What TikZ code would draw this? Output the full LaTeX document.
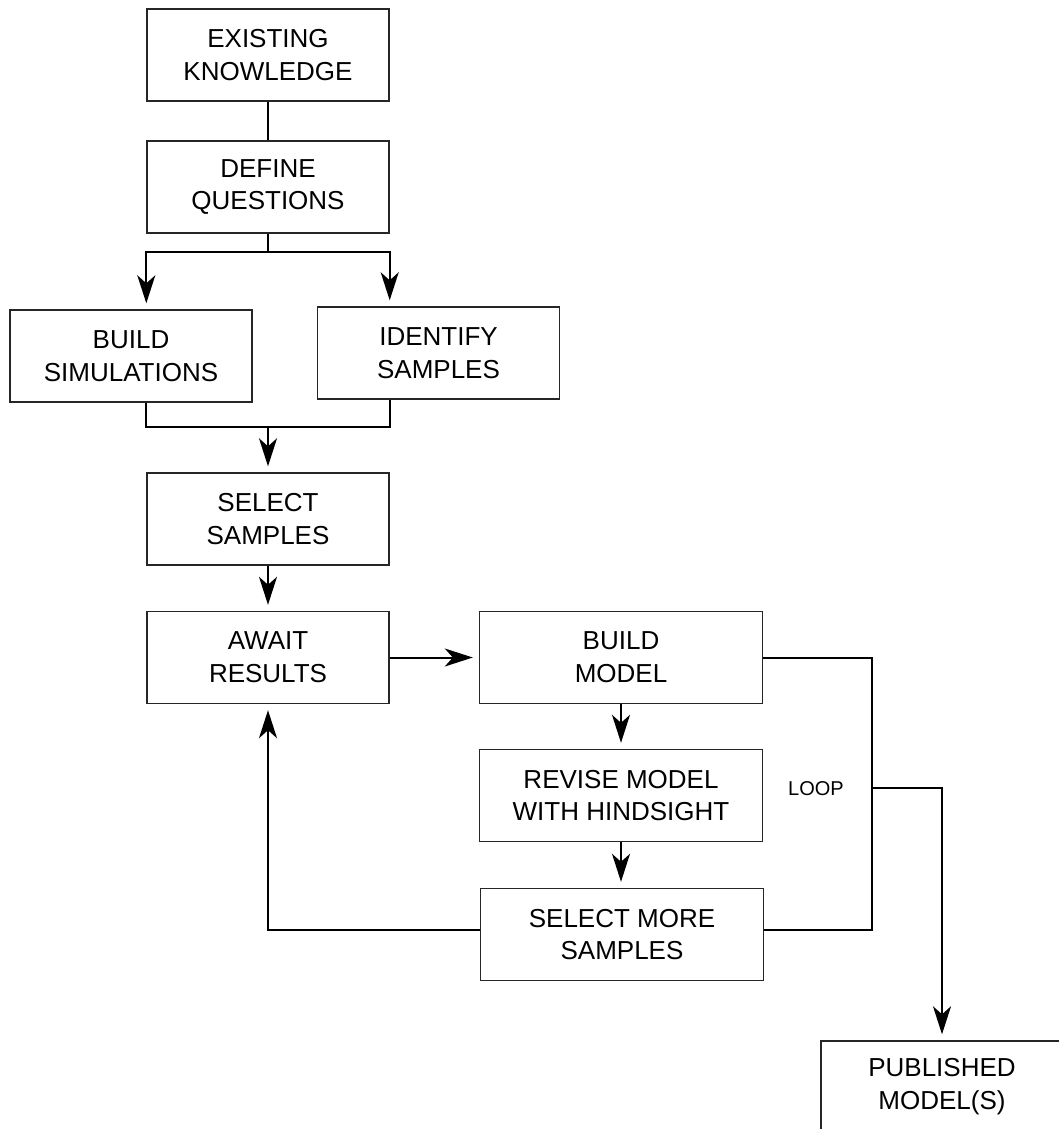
\documentclass[tikz,border=0pt]{standalone}
\usepackage{fontspec}
\setmainfont{Liberation Sans}
\usepackage{tikz}
\usetikzlibrary{arrows.meta}

\begin{document}
\begin{tikzpicture}[x=0.5pt,y=-0.5pt,
  stagebox/.style={draw=black!85,line width=0.7pt,minimum width=121pt,minimum height=46pt,
    inner sep=0pt,align=center,font=\fontsize{13}{16.4}\selectfont},
  wide/.style={minimum width=141.5pt},
  link/.style={line width=1pt},
  flow/.style={line width=1pt,-{Stealth[length=14pt,width=9pt,inset=4pt]},shorten >=3pt}]
\clip (0,0) rectangle (1059,1129);
\node[stagebox] (exist) at (268,55) {EXISTING\\KNOWLEDGE};
\node[stagebox] (define) at (268,187) {DEFINE\\QUESTIONS};
\node[stagebox] (buildsim) at (131,356) {BUILD\\SIMULATIONS};
\node[stagebox] (identify) at (438.5,353) {IDENTIFY\\SAMPLES};
\node[stagebox] (select) at (268,519) {SELECT\\SAMPLES};
\node[stagebox] (await) at (268,657.5) {AWAIT\\RESULTS};
\node[stagebox,wide] (buildmodel) at (621,657.5) {BUILD\\MODEL};
\node[stagebox,wide] (revise) at (621,795.5) {REVISE MODEL\\WITH HINDSIGHT};
\node[stagebox,wide] (selectmore) at (622,934.5) {SELECT MORE\\SAMPLES};
\node[stagebox] (published) at (942,1087) {PUBLISHED\\MODEL(S)};
\node[font=\fontsize{10}{12}\selectfont] (loop) at (816,789) {LOOP};
\coordinate (split) at (268,252);
\coordinate (merge) at (268,427);
\coordinate (looptop) at (872,657.5);
\coordinate (loopbot) at (872,930);
\coordinate (exitpt) at (872,788);
% top part
\draw[link] (exist) -- (define);
\draw[link] (define) -- (split);
\draw[flow] (split) -| (define.west |- buildsim.north);
\draw[flow] (split) -| (define.east |- identify.north);
\draw[link] (define.west |- buildsim.south) |- (merge) -| (define.east |- identify.south);
\draw[flow] (merge) -- (select);
\draw[flow] (select) -- (await);
\draw[flow] (await) -- (buildmodel);
\draw[flow] (buildmodel) -- (revise);
\draw[flow] (revise) -- (revise |- selectmore.north);
% the loop
\draw[link] (buildmodel.east) -- (looptop) -- (loopbot) -- (loopbot -| selectmore.east);
\draw[flow] (selectmore.west |- loopbot) -| (await.south);
\draw[flow] (exitpt) -| (published.north);
\end{tikzpicture}
\end{document}
